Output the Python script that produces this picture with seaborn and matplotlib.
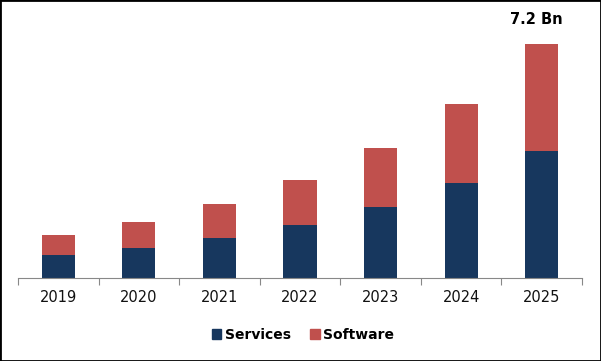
import matplotlib.pyplot as plt
import seaborn as sns
import pandas as pd
from matplotlib.patches import Patch, Rectangle

years = ['2019', '2020', '2021', '2022', '2023', '2024', '2025']
services = [0.71, 0.92, 1.23, 1.63, 2.18, 2.92, 3.91]
software = [0.61, 0.80, 1.05, 1.39, 1.82, 2.43, 3.29]
total_label = '7.2 Bn'

navy = '#17375E'
red = '#C0504D'

sns.set_style('white')
plt.rcParams['font.family'] = ['DejaVu Sans']
plt.rcParams['text.color'] = 'black'
plt.rcParams['xtick.color'] = 'black'

df = pd.DataFrame({'year': years, 'Services': services, 'Software': software})

fig = plt.figure(figsize=(6.01, 3.61), dpi=100)
ax = fig.add_axes([18 / 601, 83 / 361, 564 / 601, 268 / 361])

sns.barplot(data=df, x='year', y='Services', color=navy, width=0.41,
            saturation=1, linewidth=0, ax=ax)
sns.barplot(data=df, x='year', y='Software', color=red, width=0.41,
            saturation=1, linewidth=0, bottom=df['Services'], ax=ax)

ax.set_xlim(-0.5, len(years) - 0.5)
ax.set_ylim(0, 8.25)
ax.set_xlabel('')
ax.set_ylabel('')
ax.set_yticks([])
for side in ['top', 'right', 'left']:
    ax.spines[side].set_visible(False)
ax.spines['bottom'].set_color('#888888')
ax.spines['bottom'].set_linewidth(0.8)

ax.set_xticks(range(len(years)))
ax.set_xticklabels(years, fontsize=10.5, color='#111111')
ax.set_xticks([i - 0.5 for i in range(len(years) + 1)], minor=True)
ax.tick_params(axis='x', which='major', length=0, pad=9)
ax.tick_params(axis='x', which='minor', bottom=True, length=5, color='#888888',
               width=0.8, direction='out')

last = len(years) - 1
ax.annotate(total_label, xy=(last, services[last] + software[last]),
            xytext=(-4, 12), textcoords='offset points', ha='center',
            va='bottom', fontsize=10.5, fontweight='bold', color='black')

handles = [Patch(color=navy, label='Services'), Patch(color=red, label='Software')]
fig.legend(handles=handles, loc='center', bbox_to_anchor=(303 / 601, 1 - 335 / 361),
           ncol=2, frameon=False, prop={'weight': 'bold', 'size': 10},
           handlelength=0.7, handleheight=0.7, handletextpad=0.25, columnspacing=1.4)

fig.patches.append(Rectangle((0, 0), 1, 1, transform=fig.transFigure,
                             fill=False, edgecolor='black', linewidth=2))

fig.savefig('out.png', dpi=100)
